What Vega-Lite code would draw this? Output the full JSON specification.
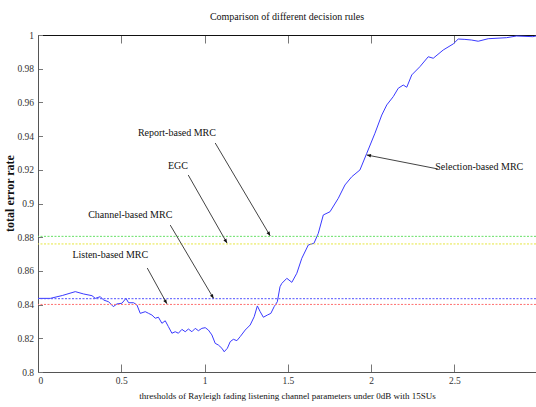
{
  "$schema": "https://vega.github.io/schema/vega-lite/v6.json",
  "width": 498,
  "height": 337,
  "autosize": {"type": "none"},
  "padding": {"left": 38, "top": 35, "right": 0, "bottom": 35},
  "background": "white",
  "title": {"text": "Comparison of different decision rules", "font": "'Liberation Serif', 'Times New Roman', serif", "fontSize": 10, "fontWeight": "normal", "color": "#111", "offset": 8, "anchor": "middle"},
  "config": {
    "view": {"stroke": null},
    "axis": {"grid": false, "labelFont": "'Liberation Serif', 'Times New Roman', serif", "labelFontSize": 9.5, "labelColor": "#333", "domainColor": "#555", "tickColor": "#777", "titleFont": "'Liberation Serif', 'Times New Roman', serif", "titleColor": "#111"}
  },
  "datasets": {
    "curve": [
      {"t": 0, "err": 0.8437}, {"t": 0.074, "err": 0.8437}, {"t": 0.146, "err": 0.8454}, {"t": 0.224, "err": 0.8477},
      {"t": 0.274, "err": 0.8463}, {"t": 0.324, "err": 0.8453}, {"t": 0.344, "err": 0.8437}, {"t": 0.374, "err": 0.8447},
      {"t": 0.394, "err": 0.8427}, {"t": 0.424, "err": 0.8417}, {"t": 0.452, "err": 0.8388}, {"t": 0.474, "err": 0.8404},
      {"t": 0.504, "err": 0.8408}, {"t": 0.528, "err": 0.8437}, {"t": 0.544, "err": 0.8411}, {"t": 0.574, "err": 0.8411},
      {"t": 0.594, "err": 0.8398}, {"t": 0.614, "err": 0.8348}, {"t": 0.644, "err": 0.8358}, {"t": 0.664, "err": 0.8348},
      {"t": 0.684, "err": 0.8338}, {"t": 0.704, "err": 0.8319}, {"t": 0.723, "err": 0.8325}, {"t": 0.744, "err": 0.8289},
      {"t": 0.764, "err": 0.8304}, {"t": 0.783, "err": 0.8269}, {"t": 0.804, "err": 0.823}, {"t": 0.824, "err": 0.8239},
      {"t": 0.843, "err": 0.823}, {"t": 0.864, "err": 0.8253}, {"t": 0.884, "err": 0.8239}, {"t": 0.903, "err": 0.8255},
      {"t": 0.924, "err": 0.8239}, {"t": 0.944, "err": 0.8259}, {"t": 0.963, "err": 0.8245}, {"t": 0.984, "err": 0.8259},
      {"t": 1.004, "err": 0.8263}, {"t": 1.023, "err": 0.8249}, {"t": 1.044, "err": 0.822}, {"t": 1.064, "err": 0.817},
      {"t": 1.083, "err": 0.816}, {"t": 1.104, "err": 0.8141}, {"t": 1.118, "err": 0.812}, {"t": 1.137, "err": 0.8141},
      {"t": 1.154, "err": 0.818}, {"t": 1.173, "err": 0.8194}, {"t": 1.194, "err": 0.8186}, {"t": 1.214, "err": 0.821},
      {"t": 1.244, "err": 0.8249}, {"t": 1.274, "err": 0.8279}, {"t": 1.298, "err": 0.8328}, {"t": 1.317, "err": 0.8392},
      {"t": 1.334, "err": 0.8358}, {"t": 1.353, "err": 0.8325}, {"t": 1.377, "err": 0.8338}, {"t": 1.398, "err": 0.8348},
      {"t": 1.418, "err": 0.8388}, {"t": 1.437, "err": 0.8417}, {"t": 1.453, "err": 0.8506}, {"t": 1.464, "err": 0.8526},
      {"t": 1.494, "err": 0.8556}, {"t": 1.524, "err": 0.8532}, {"t": 1.554, "err": 0.8586}, {"t": 1.584, "err": 0.8675},
      {"t": 1.623, "err": 0.8754}, {"t": 1.657, "err": 0.8764}, {"t": 1.683, "err": 0.8823}, {"t": 1.713, "err": 0.8932},
      {"t": 1.753, "err": 0.8951}, {"t": 1.803, "err": 0.9031}, {"t": 1.843, "err": 0.911}, {"t": 1.884, "err": 0.9159},
      {"t": 1.933, "err": 0.9199}, {"t": 1.974, "err": 0.9298}, {"t": 2.023, "err": 0.9417}, {"t": 2.064, "err": 0.9525},
      {"t": 2.094, "err": 0.9585}, {"t": 2.133, "err": 0.9634}, {"t": 2.163, "err": 0.9684}, {"t": 2.193, "err": 0.9703},
      {"t": 2.214, "err": 0.969}, {"t": 2.244, "err": 0.9763}, {"t": 2.293, "err": 0.9812}, {"t": 2.343, "err": 0.9871},
      {"t": 2.373, "err": 0.9862}, {"t": 2.433, "err": 0.9911}, {"t": 2.493, "err": 0.9947}, {"t": 2.523, "err": 0.9976},
      {"t": 2.563, "err": 0.9974}, {"t": 2.604, "err": 0.997}, {"t": 2.643, "err": 0.9963}, {"t": 2.703, "err": 0.9978},
      {"t": 2.813, "err": 0.9984}, {"t": 2.873, "err": 0.9994}, {"t": 2.971, "err": 0.999}, {"t": 2.99, "err": 0.9994}
    ],
    "refs": [
      {"rule": "Report-based MRC", "value": 0.8805},
      {"rule": "EGC", "value": 0.876},
      {"rule": "Channel-based MRC", "value": 0.8435},
      {"rule": "Listen-based MRC", "value": 0.8401}
    ],
    "notes": [
      {"label": "Report-based MRC", "tx": 0.834, "ty": 0.942, "ax": 1.064, "ay": 0.9359, "hx": 1.394, "hy": 0.8808},
      {"label": "EGC", "tx": 0.84, "ty": 0.9223, "ax": 0.902, "ay": 0.9169, "hx": 1.135, "hy": 0.8765},
      {"label": "Channel-based MRC", "tx": 0.554, "ty": 0.8932, "ax": 0.794, "ay": 0.8872, "hx": 1.054, "hy": 0.8437},
      {"label": "Listen-based MRC", "tx": 0.434, "ty": 0.8694, "ax": 0.656, "ay": 0.8617, "hx": 0.774, "hy": 0.8405},
      {"label": "Selection-based MRC", "tx": 2.649, "ty": 0.9215, "ax": 2.401, "ay": 0.9205, "hx": 1.974, "hy": 0.9288}
    ],
    "edges": [{"t": 0}, {"t": 2.99}]
  },
  "layer": [
    {
      "data": {"name": "curve"},
      "mark": {"type": "line", "color": "#3a3aff", "strokeWidth": 1, "clip": true},
      "encoding": {
        "x": {"field": "t", "type": "quantitative", "scale": {"domain": [0, 2.99], "nice": false, "zero": false},
          "axis": {"orient": "bottom", "values": [0, 0.5, 1, 1.5, 2, 2.5], "format": "~g", "tickSize": -8, "labelPadding": 11, "domainColor": "#555",
            "title": "thresholds of Rayleigh fading listening channel parameters under 0dB with 15SUs", "titleFontSize": 9, "titleFontWeight": "normal", "titlePadding": 7}},
        "y": {"field": "err", "type": "quantitative", "scale": {"domain": [0.8, 1], "nice": false, "zero": false},
          "axis": {"orient": "left", "values": [0.8, 0.82, 0.84, 0.86, 0.88, 0.9, 0.92, 0.94, 0.96, 0.98, 1], "format": ".2~f", "tickSize": -4.5, "labelPadding": 9,
            "title": "total error rate", "titleFontSize": 12, "titleFontWeight": "bold", "titleX": -29, "titleY": 158, "titleAngle": 270, "titleBaseline": "middle", "titleAlign": "center"}}
      }
    },
    {
      "data": {"name": "refs"},
      "mark": {"type": "rule", "strokeWidth": 1, "strokeDash": [2, 1.5]},
      "encoding": {
        "y": {"field": "value", "type": "quantitative", "axis": null},
        "color": {"field": "rule", "type": "nominal", "legend": null,
          "scale": {"domain": ["Report-based MRC", "EGC", "Channel-based MRC", "Listen-based MRC"], "range": ["#66e066", "#e6e640", "#5050ff", "#ff7070"]}}
      }
    },
    {
      "data": {"name": "edges"},
      "mark": {"type": "rule", "opacity": 0},
      "encoding": {
        "x": {"field": "t", "type": "quantitative",
          "axis": {"orient": "top", "values": [0, 0.5, 1, 1.5, 2, 2.5], "labels": false, "title": null, "tickSize": -8, "domainColor": "#111", "domainWidth": 1.2}}
      }
    },
    {
      "data": {"name": "notes"},
      "mark": {"type": "rule", "color": "#444", "strokeWidth": 1},
      "encoding": {
        "x": {"field": "ax", "type": "quantitative", "axis": null},
        "y": {"field": "ay", "type": "quantitative", "axis": null},
        "x2": {"field": "hx"},
        "y2": {"field": "hy"}
      }
    },
    {
      "data": {"name": "notes"},
      "transform": [{"filter": "datum.label !== 'Selection-based MRC'"}],
      "mark": {"type": "point", "shape": "M0,0L-0.42,1L0.42,1Z", "filled": true, "color": "#111", "opacity": 1, "size": 70, "angle": 149},
      "encoding": {
        "x": {"field": "hx", "type": "quantitative", "axis": null},
        "y": {"field": "hy", "type": "quantitative", "axis": null}
      }
    },
    {
      "data": {"name": "notes"},
      "transform": [{"filter": "datum.label === 'Selection-based MRC'"}],
      "mark": {"type": "point", "shape": "M0,0L-0.42,1L0.42,1Z", "filled": true, "color": "#111", "opacity": 1, "size": 70, "angle": 281},
      "encoding": {
        "x": {"field": "hx", "type": "quantitative", "axis": null},
        "y": {"field": "hy", "type": "quantitative", "axis": null}
      }
    },
    {
      "data": {"name": "notes"},
      "mark": {"type": "text", "font": "'Liberation Serif', 'Times New Roman', serif", "fontSize": 10, "color": "#111", "align": "center", "baseline": "middle"},
      "encoding": {
        "x": {"field": "tx", "type": "quantitative", "axis": null},
        "y": {"field": "ty", "type": "quantitative", "axis": null},
        "text": {"field": "label"}
      }
    }
  ],
  "resolve": {"axis": {"x": "independent", "y": "independent"}}
}
